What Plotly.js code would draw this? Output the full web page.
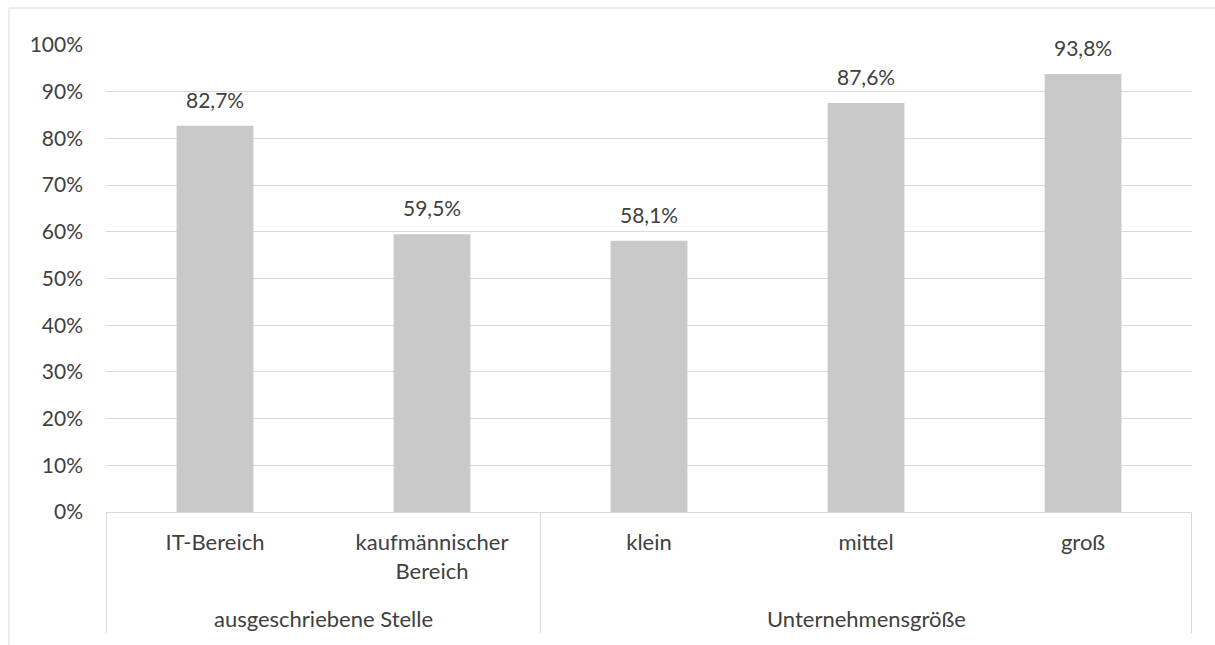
<!DOCTYPE html>
<html>
<head>
<meta charset="utf-8">
<script src="https://cdn.plot.ly/plotly-3.0.1.min.js"></script>
<style>
  html, body { margin: 0; padding: 0; background: #ffffff; }
  #chart { width: 1215px; height: 645px; }
</style>
</head>
<body>
<div id="chart"></div>
<script>
// Kategorien, Beschriftungen und Anteile (in Prozent)
const categories = ['IT-Bereich', 'kaufmännischer Bereich', 'klein', 'mittel', 'groß'];
const tickLabels = ['IT-Bereich', 'kaufmännischer<br>Bereich', 'klein', 'mittel', 'groß'];
const values = [82.7, 59.5, 58.1, 87.6, 93.8];
const groups = ['ausgeschriebene Stelle', 'Unternehmensgröße'];
const groupSizes = [2, 3];

// Layout geometry (pixels)
const W = 1215, H = 645;
const M = { l: 106, r: 23, t: 45, b: 133 };
const plotW = W - M.l - M.r;
const plotH = H - M.t - M.b;
const toPaperY = px => (H - M.b - px) / plotH;   // page pixel row -> paper y
const toPaperX = px => (px - M.l) / plotW;       // page pixel column -> paper x

const textColor = '#404040';
const lineColor = '#d9d9d9';
const fontFamily = 'Lato, "Open Sans", sans-serif';

const fmt = v => v.toFixed(1).replace('.', ',') + '%';

const shapes = [];
const annotations = [];

// Chart frame: top and left edges
shapes.push({
  type: 'line', xref: 'paper', yref: 'paper',
  x0: toPaperX(9), x1: toPaperX(W + 10), y0: toPaperY(8), y1: toPaperY(8),
  line: { color: lineColor, width: 1 }, layer: 'below'
});
shapes.push({
  type: 'line', xref: 'paper', yref: 'paper',
  x0: toPaperX(9), x1: toPaperX(9), y0: toPaperY(8), y1: toPaperY(H + 10),
  line: { color: lineColor, width: 1 }, layer: 'below'
});

// Group dividers and group labels below the category labels
let start = 0;
const bounds = [-0.5];
groups.forEach((g, i) => {
  const end = start + groupSizes[i];
  bounds.push(end - 0.5);
  annotations.push({
    text: g, xref: 'x', yref: 'paper',
    x: (start + end - 1) / 2, y: toPaperY(618),
    xanchor: 'center', yanchor: 'middle', showarrow: false,
    font: { family: fontFamily, size: 22, color: textColor }
  });
  start = end;
});
bounds.forEach(b => {
  shapes.push({
    type: 'line', xref: 'x', yref: 'paper',
    x0: b, x1: b, y0: 0, y1: toPaperY(633),
    line: { color: lineColor, width: 1 }
  });
});

// Value labels above the bars
categories.forEach((c, i) => {
  annotations.push({
    text: fmt(values[i]), xref: 'x', yref: 'y',
    x: c, y: values[i], xanchor: 'center', yanchor: 'bottom',
    yshift: 12, showarrow: false,
    font: { family: fontFamily, size: 21, color: textColor }
  });
});

const trace = {
  type: 'bar',
  x: categories,
  y: values,
  marker: { color: '#c9c9c9', line: { width: 0 } },
  hoverinfo: 'skip'
};

const layout = {
  width: W, height: H,
  margin: M,
  paper_bgcolor: '#ffffff',
  plot_bgcolor: '#ffffff',
  showlegend: false,
  bargap: 0.646,
  font: { family: fontFamily, size: 21, color: textColor },
  xaxis: {
    type: 'category',
    tickvals: categories,
    ticktext: tickLabels,
    showline: true, linecolor: lineColor, linewidth: 1,
    showgrid: false, zeroline: false,
    ticks: '', ticklabelstandoff: 11,
    tickfont: { family: fontFamily, size: 22, color: textColor },
    fixedrange: true
  },
  yaxis: {
    range: [0, 100],
    dtick: 10,
    ticksuffix: '%',
    showgrid: true, gridcolor: lineColor, gridwidth: 1,
    zeroline: false, showline: false,
    ticks: '', ticklabelstandoff: 22,
    tickfont: { family: fontFamily, size: 21, color: textColor },
    fixedrange: true
  },
  shapes: shapes,
  annotations: annotations
};

Plotly.newPlot('chart', [trace], layout, { staticPlot: true, displayModeBar: false });
</script>
</body>
</html>
